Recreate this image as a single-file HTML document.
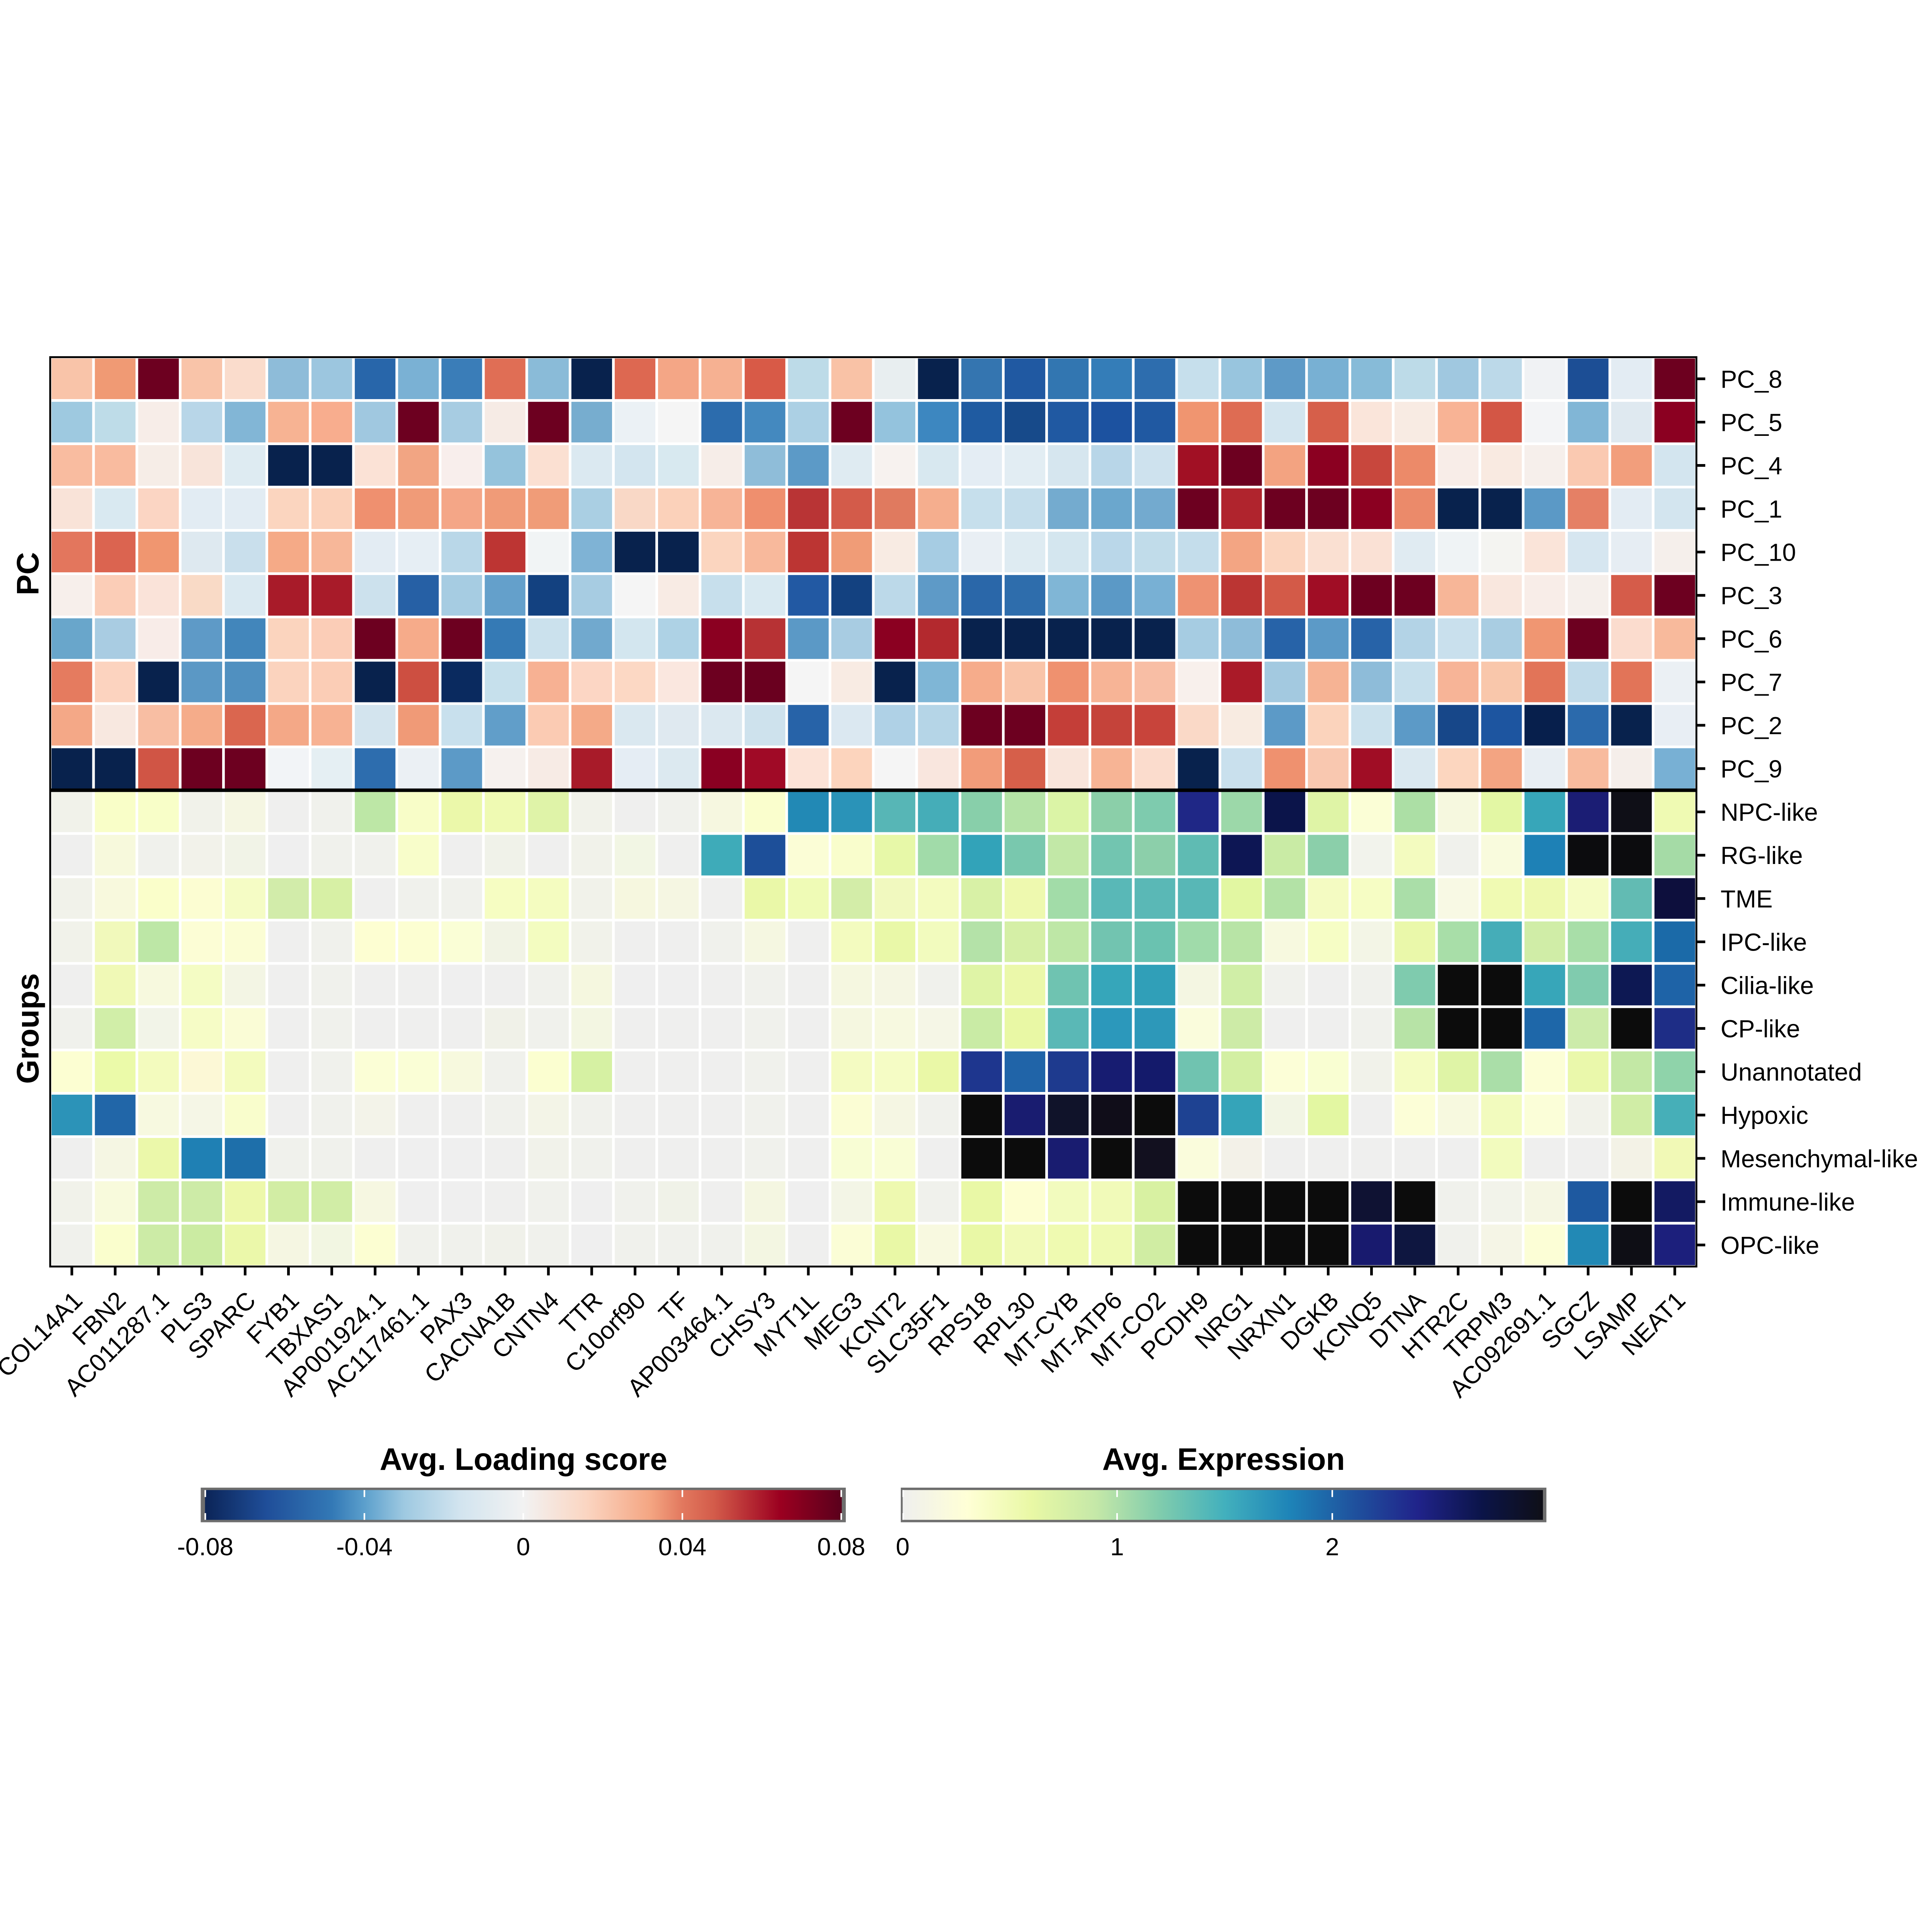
<!DOCTYPE html>
<html><head><meta charset="utf-8">
<style>
html,body{margin:0;padding:0;background:#fff;overflow:hidden}
svg{display:block;width:100vw;height:100vh}
text{font-family:"Liberation Sans",Arial,sans-serif;fill:#000}
</style></head><body>
<svg viewBox="0 0 7200 7200" xmlns="http://www.w3.org/2000/svg">
<defs>
<linearGradient id="g1" x1="0" y1="0" x2="1" y2="0">
<stop offset="0" stop-color="#0b2457"/><stop offset="0.0966" stop-color="#1f4e99"/><stop offset="0.2" stop-color="#3379b6"/><stop offset="0.25" stop-color="#5b9fcc"/><stop offset="0.3125" stop-color="#9ec9e1"/><stop offset="0.4" stop-color="#d2e4ef"/><stop offset="0.5" stop-color="#f2f2f2"/><stop offset="0.6" stop-color="#fbd5c1"/><stop offset="0.7" stop-color="#f4a582"/><stop offset="0.75" stop-color="#e2785e"/><stop offset="0.8" stop-color="#d35b4a"/><stop offset="0.85" stop-color="#b92f35"/><stop offset="0.903" stop-color="#9b0020"/><stop offset="1" stop-color="#5a001c"/>
</linearGradient>
<linearGradient id="g2" x1="0" y1="0" x2="1" y2="0">
<stop offset="0" stop-color="#efefee"/><stop offset="0.1006" stop-color="#ffffd6"/><stop offset="0.201" stop-color="#e9f8a5"/><stop offset="0.302" stop-color="#c5e8a8"/><stop offset="0.402" stop-color="#80ccad"/><stop offset="0.503" stop-color="#42b0bd"/><stop offset="0.604" stop-color="#1e84b8"/><stop offset="0.704" stop-color="#1f529e"/><stop offset="0.805" stop-color="#20238a"/><stop offset="0.905" stop-color="#0b1448"/><stop offset="1" stop-color="#0f0f17"/>
</linearGradient>
</defs>
<rect x="0" y="0" width="7200" height="7200" fill="#fff"/>
<!-- cells -->
<g transform="translate(0 1336)">
<rect x="192" width="151.5" height="151.4" fill="#f9c4a9"/><rect x="353.5" width="151.5" height="151.4" fill="#f09a74"/><rect x="514.9" width="151.5" height="151.4" fill="#6d0020"/><rect x="676.4" width="151.5" height="151.4" fill="#f9c4a9"/><rect x="837.8" width="151.5" height="151.4" fill="#fadccc"/><rect x="999.3" width="151.5" height="151.4" fill="#8ebcd9"/><rect x="1160.7" width="151.5" height="151.4" fill="#9cc6df"/><rect x="1322.2" width="151.5" height="151.4" fill="#2866aa"/><rect x="1483.6" width="151.5" height="151.4" fill="#7ab1d4"/><rect x="1645.1" width="151.5" height="151.4" fill="#3a7db8"/><rect x="1806.5" width="151.5" height="151.4" fill="#e06e55"/><rect x="1968" width="151.5" height="151.4" fill="#8abbd8"/><rect x="2129.4" width="151.5" height="151.4" fill="#08224d"/><rect x="2290.9" width="151.5" height="151.4" fill="#dd6851"/><rect x="2452.3" width="151.5" height="151.4" fill="#f4a686"/><rect x="2613.8" width="151.5" height="151.4" fill="#f6b192"/><rect x="2775.2" width="151.5" height="151.4" fill="#d85a47"/><rect x="2936.7" width="151.5" height="151.4" fill="#bddbe8"/><rect x="3098.1" width="151.5" height="151.4" fill="#f9c2a6"/><rect x="3259.6" width="151.5" height="151.4" fill="#e8eef0"/><rect x="3421" width="151.5" height="151.4" fill="#08224d"/><rect x="3582.5" width="151.5" height="151.4" fill="#3475b0"/><rect x="3743.9" width="151.5" height="151.4" fill="#2059a2"/><rect x="3905.4" width="151.5" height="151.4" fill="#3276b1"/><rect x="4066.8" width="151.5" height="151.4" fill="#347db8"/><rect x="4228.3" width="151.5" height="151.4" fill="#2d6dae"/><rect x="4389.7" width="151.5" height="151.4" fill="#c6dfec"/><rect x="4551.2" width="151.5" height="151.4" fill="#98c5de"/><rect x="4712.6" width="151.5" height="151.4" fill="#5e9ac7"/><rect x="4874.1" width="151.5" height="151.4" fill="#78b0d3"/><rect x="5035.5" width="151.5" height="151.4" fill="#87bbd8"/><rect x="5197" width="151.5" height="151.4" fill="#bddbe8"/><rect x="5358.4" width="151.5" height="151.4" fill="#a0c8e0"/><rect x="5519.9" width="151.5" height="151.4" fill="#bcd9e9"/><rect x="5681.3" width="151.5" height="151.4" fill="#f0f2f4"/><rect x="5842.8" width="151.5" height="151.4" fill="#1c4e95"/><rect x="6004.2" width="151.5" height="151.4" fill="#e3ecf3"/><rect x="6165.7" width="151.5" height="151.4" fill="#6d001f"/>
</g>
<g transform="translate(0 1497.4)">
<rect x="192" width="151.5" height="151.4" fill="#9ec9e0"/><rect x="353.5" width="151.5" height="151.4" fill="#bedce8"/><rect x="514.9" width="151.5" height="151.4" fill="#f7ede8"/><rect x="676.4" width="151.5" height="151.4" fill="#b8d6e8"/><rect x="837.8" width="151.5" height="151.4" fill="#82b6d6"/><rect x="999.3" width="151.5" height="151.4" fill="#f7b393"/><rect x="1160.7" width="151.5" height="151.4" fill="#f8ad8e"/><rect x="1322.2" width="151.5" height="151.4" fill="#a0c8e0"/><rect x="1483.6" width="151.5" height="151.4" fill="#6d0020"/><rect x="1645.1" width="151.5" height="151.4" fill="#a7cce2"/><rect x="1806.5" width="151.5" height="151.4" fill="#f6ebe5"/><rect x="1968" width="151.5" height="151.4" fill="#6d0020"/><rect x="2129.4" width="151.5" height="151.4" fill="#77adcf"/><rect x="2290.9" width="151.5" height="151.4" fill="#ebf1f5"/><rect x="2452.3" width="151.5" height="151.4" fill="#f5f5f5"/><rect x="2613.8" width="151.5" height="151.4" fill="#2c6cad"/><rect x="2775.2" width="151.5" height="151.4" fill="#4489bf"/><rect x="2936.7" width="151.5" height="151.4" fill="#acd0e4"/><rect x="3098.1" width="151.5" height="151.4" fill="#6d0020"/><rect x="3259.6" width="151.5" height="151.4" fill="#94c3dd"/><rect x="3421" width="151.5" height="151.4" fill="#3d87c0"/><rect x="3582.5" width="151.5" height="151.4" fill="#1f5ba1"/><rect x="3743.9" width="151.5" height="151.4" fill="#174a8a"/><rect x="3905.4" width="151.5" height="151.4" fill="#2059a2"/><rect x="4066.8" width="151.5" height="151.4" fill="#1c52a0"/><rect x="4228.3" width="151.5" height="151.4" fill="#2059a2"/><rect x="4389.7" width="151.5" height="151.4" fill="#f09570"/><rect x="4551.2" width="151.5" height="151.4" fill="#de6c53"/><rect x="4712.6" width="151.5" height="151.4" fill="#d3e5ef"/><rect x="4874.1" width="151.5" height="151.4" fill="#d65f4a"/><rect x="5035.5" width="151.5" height="151.4" fill="#fae5da"/><rect x="5197" width="151.5" height="151.4" fill="#f8ebe3"/><rect x="5358.4" width="151.5" height="151.4" fill="#f8b395"/><rect x="5519.9" width="151.5" height="151.4" fill="#d35645"/><rect x="5681.3" width="151.5" height="151.4" fill="#f3f4f6"/><rect x="5842.8" width="151.5" height="151.4" fill="#81b6d6"/><rect x="6004.2" width="151.5" height="151.4" fill="#dfe9f0"/><rect x="6165.7" width="151.5" height="151.4" fill="#8b0021"/>
</g>
<g transform="translate(0 1658.8)">
<rect x="192" width="151.5" height="151.4" fill="#f9bca0"/><rect x="353.5" width="151.5" height="151.4" fill="#f9bb9f"/><rect x="514.9" width="151.5" height="151.4" fill="#f6ede7"/><rect x="676.4" width="151.5" height="151.4" fill="#f8e4da"/><rect x="837.8" width="151.5" height="151.4" fill="#deebf2"/><rect x="999.3" width="151.5" height="151.4" fill="#08224d"/><rect x="1160.7" width="151.5" height="151.4" fill="#08224d"/><rect x="1322.2" width="151.5" height="151.4" fill="#fbe2d6"/><rect x="1483.6" width="151.5" height="151.4" fill="#f2a583"/><rect x="1645.1" width="151.5" height="151.4" fill="#f8eeec"/><rect x="1806.5" width="151.5" height="151.4" fill="#95c3dc"/><rect x="1968" width="151.5" height="151.4" fill="#fbe0d2"/><rect x="2129.4" width="151.5" height="151.4" fill="#dbe9f1"/><rect x="2290.9" width="151.5" height="151.4" fill="#d3e5ef"/><rect x="2452.3" width="151.5" height="151.4" fill="#d8e9f0"/><rect x="2613.8" width="151.5" height="151.4" fill="#f6ede8"/><rect x="2775.2" width="151.5" height="151.4" fill="#8fbdd9"/><rect x="2936.7" width="151.5" height="151.4" fill="#5c9ac7"/><rect x="3098.1" width="151.5" height="151.4" fill="#dfebf2"/><rect x="3259.6" width="151.5" height="151.4" fill="#f7f2ef"/><rect x="3421" width="151.5" height="151.4" fill="#d8e8f0"/><rect x="3582.5" width="151.5" height="151.4" fill="#e4edf4"/><rect x="3743.9" width="151.5" height="151.4" fill="#e2edf3"/><rect x="3905.4" width="151.5" height="151.4" fill="#d6e6ef"/><rect x="4066.8" width="151.5" height="151.4" fill="#b8d6e8"/><rect x="4228.3" width="151.5" height="151.4" fill="#cee2ee"/><rect x="4389.7" width="151.5" height="151.4" fill="#a11024"/><rect x="4551.2" width="151.5" height="151.4" fill="#6d0020"/><rect x="4712.6" width="151.5" height="151.4" fill="#f3a381"/><rect x="4874.1" width="151.5" height="151.4" fill="#8b0021"/><rect x="5035.5" width="151.5" height="151.4" fill="#c8473d"/><rect x="5197" width="151.5" height="151.4" fill="#ec8a69"/><rect x="5358.4" width="151.5" height="151.4" fill="#f8ede8"/><rect x="5519.9" width="151.5" height="151.4" fill="#f9eae1"/><rect x="5681.3" width="151.5" height="151.4" fill="#f6efeb"/><rect x="5842.8" width="151.5" height="151.4" fill="#fac9b1"/><rect x="6004.2" width="151.5" height="151.4" fill="#f29e7c"/><rect x="6165.7" width="151.5" height="151.4" fill="#d3e5ef"/>
</g>
<g transform="translate(0 1820.1)">
<rect x="192" width="151.5" height="151.4" fill="#f9e3d8"/><rect x="353.5" width="151.5" height="151.4" fill="#d9e9f1"/><rect x="514.9" width="151.5" height="151.4" fill="#fbd5c3"/><rect x="676.4" width="151.5" height="151.4" fill="#e2ecf3"/><rect x="837.8" width="151.5" height="151.4" fill="#e2ecf3"/><rect x="999.3" width="151.5" height="151.4" fill="#fbd5bf"/><rect x="1160.7" width="151.5" height="151.4" fill="#fbd1ba"/><rect x="1322.2" width="151.5" height="151.4" fill="#ef906f"/><rect x="1483.6" width="151.5" height="151.4" fill="#f09b78"/><rect x="1645.1" width="151.5" height="151.4" fill="#f4a687"/><rect x="1806.5" width="151.5" height="151.4" fill="#f09b78"/><rect x="1968" width="151.5" height="151.4" fill="#f09c78"/><rect x="2129.4" width="151.5" height="151.4" fill="#aacfe3"/><rect x="2290.9" width="151.5" height="151.4" fill="#f9d8c6"/><rect x="2452.3" width="151.5" height="151.4" fill="#fbd1ba"/><rect x="2613.8" width="151.5" height="151.4" fill="#f7b497"/><rect x="2775.2" width="151.5" height="151.4" fill="#ef8f6e"/><rect x="2936.7" width="151.5" height="151.4" fill="#b93435"/><rect x="3098.1" width="151.5" height="151.4" fill="#d35b4a"/><rect x="3259.6" width="151.5" height="151.4" fill="#e07a5f"/><rect x="3421" width="151.5" height="151.4" fill="#f5ae8e"/><rect x="3582.5" width="151.5" height="151.4" fill="#c6dfec"/><rect x="3743.9" width="151.5" height="151.4" fill="#c4ddeb"/><rect x="3905.4" width="151.5" height="151.4" fill="#74abcf"/><rect x="4066.8" width="151.5" height="151.4" fill="#6ba7cd"/><rect x="4228.3" width="151.5" height="151.4" fill="#73aacf"/><rect x="4389.7" width="151.5" height="151.4" fill="#6d0020"/><rect x="4551.2" width="151.5" height="151.4" fill="#b0242d"/><rect x="4712.6" width="151.5" height="151.4" fill="#6d0020"/><rect x="4874.1" width="151.5" height="151.4" fill="#6d0020"/><rect x="5035.5" width="151.5" height="151.4" fill="#8b0021"/><rect x="5197" width="151.5" height="151.4" fill="#eb8a6a"/><rect x="5358.4" width="151.5" height="151.4" fill="#08224d"/><rect x="5519.9" width="151.5" height="151.4" fill="#08224d"/><rect x="5681.3" width="151.5" height="151.4" fill="#5b99c6"/><rect x="5842.8" width="151.5" height="151.4" fill="#e58065"/><rect x="6004.2" width="151.5" height="151.4" fill="#e3ecf3"/><rect x="6165.7" width="151.5" height="151.4" fill="#d3e5ef"/>
</g>
<g transform="translate(0 1981.5)">
<rect x="192" width="151.5" height="151.4" fill="#e3765d"/><rect x="353.5" width="151.5" height="151.4" fill="#db6450"/><rect x="514.9" width="151.5" height="151.4" fill="#f09670"/><rect x="676.4" width="151.5" height="151.4" fill="#dee9f0"/><rect x="837.8" width="151.5" height="151.4" fill="#c9dfec"/><rect x="999.3" width="151.5" height="151.4" fill="#f5aa87"/><rect x="1160.7" width="151.5" height="151.4" fill="#f7b799"/><rect x="1322.2" width="151.5" height="151.4" fill="#e3ecf3"/><rect x="1483.6" width="151.5" height="151.4" fill="#e6eef4"/><rect x="1645.1" width="151.5" height="151.4" fill="#b9d7e8"/><rect x="1806.5" width="151.5" height="151.4" fill="#bd3533"/><rect x="1968" width="151.5" height="151.4" fill="#f1f4f5"/><rect x="2129.4" width="151.5" height="151.4" fill="#7fb3d5"/><rect x="2290.9" width="151.5" height="151.4" fill="#08224d"/><rect x="2452.3" width="151.5" height="151.4" fill="#08224d"/><rect x="2613.8" width="151.5" height="151.4" fill="#fbd5bf"/><rect x="2775.2" width="151.5" height="151.4" fill="#f8b99c"/><rect x="2936.7" width="151.5" height="151.4" fill="#bc3533"/><rect x="3098.1" width="151.5" height="151.4" fill="#f09c77"/><rect x="3259.6" width="151.5" height="151.4" fill="#f8ebe3"/><rect x="3421" width="151.5" height="151.4" fill="#a6cce3"/><rect x="3582.5" width="151.5" height="151.4" fill="#e9eff4"/><rect x="3743.9" width="151.5" height="151.4" fill="#deebf2"/><rect x="3905.4" width="151.5" height="151.4" fill="#d4e6ef"/><rect x="4066.8" width="151.5" height="151.4" fill="#bad7e9"/><rect x="4228.3" width="151.5" height="151.4" fill="#c1dcea"/><rect x="4389.7" width="151.5" height="151.4" fill="#c4ddeb"/><rect x="4551.2" width="151.5" height="151.4" fill="#f3a583"/><rect x="4712.6" width="151.5" height="151.4" fill="#fbd5bf"/><rect x="4874.1" width="151.5" height="151.4" fill="#fae0d2"/><rect x="5035.5" width="151.5" height="151.4" fill="#fae1d5"/><rect x="5197" width="151.5" height="151.4" fill="#e0ebf2"/><rect x="5358.4" width="151.5" height="151.4" fill="#eff3f5"/><rect x="5519.9" width="151.5" height="151.4" fill="#f4f4f1"/><rect x="5681.3" width="151.5" height="151.4" fill="#fae4d9"/><rect x="5842.8" width="151.5" height="151.4" fill="#d6e6f0"/><rect x="6004.2" width="151.5" height="151.4" fill="#e6edf3"/><rect x="6165.7" width="151.5" height="151.4" fill="#f5efeb"/>
</g>
<g transform="translate(0 2142.9)">
<rect x="192" width="151.5" height="151.4" fill="#f7efeb"/><rect x="353.5" width="151.5" height="151.4" fill="#fbcdb7"/><rect x="514.9" width="151.5" height="151.4" fill="#fae3d9"/><rect x="676.4" width="151.5" height="151.4" fill="#f9dac6"/><rect x="837.8" width="151.5" height="151.4" fill="#dae9f1"/><rect x="999.3" width="151.5" height="151.4" fill="#a81b29"/><rect x="1160.7" width="151.5" height="151.4" fill="#a81b29"/><rect x="1322.2" width="151.5" height="151.4" fill="#cce1ed"/><rect x="1483.6" width="151.5" height="151.4" fill="#2660a5"/><rect x="1645.1" width="151.5" height="151.4" fill="#a6cce2"/><rect x="1806.5" width="151.5" height="151.4" fill="#64a0cb"/><rect x="1968" width="151.5" height="151.4" fill="#134180"/><rect x="2129.4" width="151.5" height="151.4" fill="#a7cce2"/><rect x="2290.9" width="151.5" height="151.4" fill="#f5f5f5"/><rect x="2452.3" width="151.5" height="151.4" fill="#f8ebe4"/><rect x="2613.8" width="151.5" height="151.4" fill="#c7dfec"/><rect x="2775.2" width="151.5" height="151.4" fill="#d9e9f1"/><rect x="2936.7" width="151.5" height="151.4" fill="#2259a3"/><rect x="3098.1" width="151.5" height="151.4" fill="#134180"/><rect x="3259.6" width="151.5" height="151.4" fill="#bcd9e9"/><rect x="3421" width="151.5" height="151.4" fill="#5e9ac7"/><rect x="3582.5" width="151.5" height="151.4" fill="#2a67a9"/><rect x="3743.9" width="151.5" height="151.4" fill="#2e6dac"/><rect x="3905.4" width="151.5" height="151.4" fill="#80b6d6"/><rect x="4066.8" width="151.5" height="151.4" fill="#5b99c6"/><rect x="4228.3" width="151.5" height="151.4" fill="#78b0d4"/><rect x="4389.7" width="151.5" height="151.4" fill="#ee9272"/><rect x="4551.2" width="151.5" height="151.4" fill="#bb3533"/><rect x="4712.6" width="151.5" height="151.4" fill="#d35a48"/><rect x="4874.1" width="151.5" height="151.4" fill="#a00d25"/><rect x="5035.5" width="151.5" height="151.4" fill="#6d0020"/><rect x="5197" width="151.5" height="151.4" fill="#6d0020"/><rect x="5358.4" width="151.5" height="151.4" fill="#f7b698"/><rect x="5519.9" width="151.5" height="151.4" fill="#f9e7de"/><rect x="5681.3" width="151.5" height="151.4" fill="#f8ede8"/><rect x="5842.8" width="151.5" height="151.4" fill="#f5efeb"/><rect x="6004.2" width="151.5" height="151.4" fill="#d55c4a"/><rect x="6165.7" width="151.5" height="151.4" fill="#6d0020"/>
</g>
<g transform="translate(0 2304.3)">
<rect x="192" width="151.5" height="151.4" fill="#69a6cb"/><rect x="353.5" width="151.5" height="151.4" fill="#a9cce2"/><rect x="514.9" width="151.5" height="151.4" fill="#f8ece8"/><rect x="676.4" width="151.5" height="151.4" fill="#5e9ac7"/><rect x="837.8" width="151.5" height="151.4" fill="#4286bb"/><rect x="999.3" width="151.5" height="151.4" fill="#fbd4be"/><rect x="1160.7" width="151.5" height="151.4" fill="#fbcdb7"/><rect x="1322.2" width="151.5" height="151.4" fill="#6d0020"/><rect x="1483.6" width="151.5" height="151.4" fill="#f6ab8a"/><rect x="1645.1" width="151.5" height="151.4" fill="#6d0020"/><rect x="1806.5" width="151.5" height="151.4" fill="#357ab5"/><rect x="1968" width="151.5" height="151.4" fill="#cbe1ed"/><rect x="2129.4" width="151.5" height="151.4" fill="#71a9ce"/><rect x="2290.9" width="151.5" height="151.4" fill="#d3e6ef"/><rect x="2452.3" width="151.5" height="151.4" fill="#aed2e5"/><rect x="2613.8" width="151.5" height="151.4" fill="#8b0021"/><rect x="2775.2" width="151.5" height="151.4" fill="#b73234"/><rect x="2936.7" width="151.5" height="151.4" fill="#5b99c6"/><rect x="3098.1" width="151.5" height="151.4" fill="#a8cce2"/><rect x="3259.6" width="151.5" height="151.4" fill="#8b0021"/><rect x="3421" width="151.5" height="151.4" fill="#b3292e"/><rect x="3582.5" width="151.5" height="151.4" fill="#08224d"/><rect x="3743.9" width="151.5" height="151.4" fill="#08224d"/><rect x="3905.4" width="151.5" height="151.4" fill="#08224d"/><rect x="4066.8" width="151.5" height="151.4" fill="#08224d"/><rect x="4228.3" width="151.5" height="151.4" fill="#08224d"/><rect x="4389.7" width="151.5" height="151.4" fill="#a6cce2"/><rect x="4551.2" width="151.5" height="151.4" fill="#8ebcd9"/><rect x="4712.6" width="151.5" height="151.4" fill="#2763a8"/><rect x="4874.1" width="151.5" height="151.4" fill="#5c9ac7"/><rect x="5035.5" width="151.5" height="151.4" fill="#2763a8"/><rect x="5197" width="151.5" height="151.4" fill="#b3d3e6"/><rect x="5358.4" width="151.5" height="151.4" fill="#c9e0ed"/><rect x="5519.9" width="151.5" height="151.4" fill="#a9cde2"/><rect x="5681.3" width="151.5" height="151.4" fill="#f09672"/><rect x="5842.8" width="151.5" height="151.4" fill="#6d0020"/><rect x="6004.2" width="151.5" height="151.4" fill="#fbdcce"/><rect x="6165.7" width="151.5" height="151.4" fill="#f8ba9c"/>
</g>
<g transform="translate(0 2465.7)">
<rect x="192" width="151.5" height="151.4" fill="#e57b5f"/><rect x="353.5" width="151.5" height="151.4" fill="#fcd3bf"/><rect x="514.9" width="151.5" height="151.4" fill="#08224d"/><rect x="676.4" width="151.5" height="151.4" fill="#5b98c5"/><rect x="837.8" width="151.5" height="151.4" fill="#5090c0"/><rect x="999.3" width="151.5" height="151.4" fill="#fbd3be"/><rect x="1160.7" width="151.5" height="151.4" fill="#fbcdb6"/><rect x="1322.2" width="151.5" height="151.4" fill="#08224d"/><rect x="1483.6" width="151.5" height="151.4" fill="#cd4f41"/><rect x="1645.1" width="151.5" height="151.4" fill="#0a2a5f"/><rect x="1806.5" width="151.5" height="151.4" fill="#c6e0ec"/><rect x="1968" width="151.5" height="151.4" fill="#f7b193"/><rect x="2129.4" width="151.5" height="151.4" fill="#fcd6c4"/><rect x="2290.9" width="151.5" height="151.4" fill="#fcd8c4"/><rect x="2452.3" width="151.5" height="151.4" fill="#fae7df"/><rect x="2613.8" width="151.5" height="151.4" fill="#6d0020"/><rect x="2775.2" width="151.5" height="151.4" fill="#6a001f"/><rect x="2936.7" width="151.5" height="151.4" fill="#f5f5f5"/><rect x="3098.1" width="151.5" height="151.4" fill="#f8ebe3"/><rect x="3259.6" width="151.5" height="151.4" fill="#08224d"/><rect x="3421" width="151.5" height="151.4" fill="#7fb6d6"/><rect x="3582.5" width="151.5" height="151.4" fill="#f6ac8b"/><rect x="3743.9" width="151.5" height="151.4" fill="#f9c4a9"/><rect x="3905.4" width="151.5" height="151.4" fill="#ef916f"/><rect x="4066.8" width="151.5" height="151.4" fill="#f7b496"/><rect x="4228.3" width="151.5" height="151.4" fill="#f8bea5"/><rect x="4389.7" width="151.5" height="151.4" fill="#f8f0ec"/><rect x="4551.2" width="151.5" height="151.4" fill="#aa1a28"/><rect x="4712.6" width="151.5" height="151.4" fill="#a3c9e0"/><rect x="4874.1" width="151.5" height="151.4" fill="#f6b394"/><rect x="5035.5" width="151.5" height="151.4" fill="#8ebcd9"/><rect x="5197" width="151.5" height="151.4" fill="#c6dfec"/><rect x="5358.4" width="151.5" height="151.4" fill="#f7b497"/><rect x="5519.9" width="151.5" height="151.4" fill="#f9c7ab"/><rect x="5681.3" width="151.5" height="151.4" fill="#e27458"/><rect x="5842.8" width="151.5" height="151.4" fill="#c1dbea"/><rect x="6004.2" width="151.5" height="151.4" fill="#e27458"/><rect x="6165.7" width="151.5" height="151.4" fill="#ebf0f4"/>
</g>
<g transform="translate(0 2627)">
<rect x="192" width="151.5" height="151.4" fill="#f4a887"/><rect x="353.5" width="151.5" height="151.4" fill="#f8e8e0"/><rect x="514.9" width="151.5" height="151.4" fill="#f8bea3"/><rect x="676.4" width="151.5" height="151.4" fill="#f5ac8a"/><rect x="837.8" width="151.5" height="151.4" fill="#da664f"/><rect x="999.3" width="151.5" height="151.4" fill="#f4a887"/><rect x="1160.7" width="151.5" height="151.4" fill="#f7b293"/><rect x="1322.2" width="151.5" height="151.4" fill="#d3e4ee"/><rect x="1483.6" width="151.5" height="151.4" fill="#f09a77"/><rect x="1645.1" width="151.5" height="151.4" fill="#c8e0ed"/><rect x="1806.5" width="151.5" height="151.4" fill="#619ec9"/><rect x="1968" width="151.5" height="151.4" fill="#fbcbb3"/><rect x="2129.4" width="151.5" height="151.4" fill="#f4aa88"/><rect x="2290.9" width="151.5" height="151.4" fill="#dae8f0"/><rect x="2452.3" width="151.5" height="151.4" fill="#dfe9f0"/><rect x="2613.8" width="151.5" height="151.4" fill="#dbe8f0"/><rect x="2775.2" width="151.5" height="151.4" fill="#cee2ed"/><rect x="2936.7" width="151.5" height="151.4" fill="#2763a8"/><rect x="3098.1" width="151.5" height="151.4" fill="#dbe8f1"/><rect x="3259.6" width="151.5" height="151.4" fill="#afd1e6"/><rect x="3421" width="151.5" height="151.4" fill="#b5d5e7"/><rect x="3582.5" width="151.5" height="151.4" fill="#6d0020"/><rect x="3743.9" width="151.5" height="151.4" fill="#6d0020"/><rect x="3905.4" width="151.5" height="151.4" fill="#c43e38"/><rect x="4066.8" width="151.5" height="151.4" fill="#c5433a"/><rect x="4228.3" width="151.5" height="151.4" fill="#c8443b"/><rect x="4389.7" width="151.5" height="151.4" fill="#fad9c7"/><rect x="4551.2" width="151.5" height="151.4" fill="#f8ebe1"/><rect x="4712.6" width="151.5" height="151.4" fill="#5c9ac7"/><rect x="4874.1" width="151.5" height="151.4" fill="#fbd3bc"/><rect x="5035.5" width="151.5" height="151.4" fill="#cbe1ed"/><rect x="5197" width="151.5" height="151.4" fill="#5c9ac7"/><rect x="5358.4" width="151.5" height="151.4" fill="#174789"/><rect x="5519.9" width="151.5" height="151.4" fill="#1d55a0"/><rect x="5681.3" width="151.5" height="151.4" fill="#071f4c"/><rect x="5842.8" width="151.5" height="151.4" fill="#2b6aac"/><rect x="6004.2" width="151.5" height="151.4" fill="#08224d"/><rect x="6165.7" width="151.5" height="151.4" fill="#e8eef4"/>
</g>
<g transform="translate(0 2788.4)">
<rect x="192" width="151.5" height="151.4" fill="#08224d"/><rect x="353.5" width="151.5" height="151.4" fill="#08224d"/><rect x="514.9" width="151.5" height="151.4" fill="#d05545"/><rect x="676.4" width="151.5" height="151.4" fill="#6d0020"/><rect x="837.8" width="151.5" height="151.4" fill="#6d0020"/><rect x="999.3" width="151.5" height="151.4" fill="#f2f4f7"/><rect x="1160.7" width="151.5" height="151.4" fill="#e5eff3"/><rect x="1322.2" width="151.5" height="151.4" fill="#2d6dae"/><rect x="1483.6" width="151.5" height="151.4" fill="#ebf0f4"/><rect x="1645.1" width="151.5" height="151.4" fill="#5c9ac7"/><rect x="1806.5" width="151.5" height="151.4" fill="#f6f1ee"/><rect x="1968" width="151.5" height="151.4" fill="#f7ebe5"/><rect x="2129.4" width="151.5" height="151.4" fill="#a81b29"/><rect x="2290.9" width="151.5" height="151.4" fill="#e5edf4"/><rect x="2452.3" width="151.5" height="151.4" fill="#dce9f0"/><rect x="2613.8" width="151.5" height="151.4" fill="#8a0022"/><rect x="2775.2" width="151.5" height="151.4" fill="#a00a26"/><rect x="2936.7" width="151.5" height="151.4" fill="#fce3d7"/><rect x="3098.1" width="151.5" height="151.4" fill="#fcd4bd"/><rect x="3259.6" width="151.5" height="151.4" fill="#f5f5f5"/><rect x="3421" width="151.5" height="151.4" fill="#f9e6de"/><rect x="3582.5" width="151.5" height="151.4" fill="#f29c7a"/><rect x="3743.9" width="151.5" height="151.4" fill="#d65f4a"/><rect x="3905.4" width="151.5" height="151.4" fill="#f9e5db"/><rect x="4066.8" width="151.5" height="151.4" fill="#f7b495"/><rect x="4228.3" width="151.5" height="151.4" fill="#fbdccd"/><rect x="4389.7" width="151.5" height="151.4" fill="#08224d"/><rect x="4551.2" width="151.5" height="151.4" fill="#c9e0ed"/><rect x="4712.6" width="151.5" height="151.4" fill="#ef916f"/><rect x="4874.1" width="151.5" height="151.4" fill="#f9c8b0"/><rect x="5035.5" width="151.5" height="151.4" fill="#a00d25"/><rect x="5197" width="151.5" height="151.4" fill="#dae8f0"/><rect x="5358.4" width="151.5" height="151.4" fill="#fcd6bf"/><rect x="5519.9" width="151.5" height="151.4" fill="#f3a482"/><rect x="5681.3" width="151.5" height="151.4" fill="#e8eef3"/><rect x="5842.8" width="151.5" height="151.4" fill="#f8bb9e"/><rect x="6004.2" width="151.5" height="151.4" fill="#f5eeea"/><rect x="6165.7" width="151.5" height="151.4" fill="#78b0d4"/>
</g>
<g transform="translate(0 2949.8)">
<rect x="192" width="151.5" height="151.4" fill="#f1f2ea"/><rect x="353.5" width="151.5" height="151.4" fill="#f9fec8"/><rect x="514.9" width="151.5" height="151.4" fill="#f8fec8"/><rect x="676.4" width="151.5" height="151.4" fill="#f1f2ea"/><rect x="837.8" width="151.5" height="151.4" fill="#f5f6e2"/><rect x="999.3" width="151.5" height="151.4" fill="#efefee"/><rect x="1160.7" width="151.5" height="151.4" fill="#f0f1ec"/><rect x="1322.2" width="151.5" height="151.4" fill="#bde7a6"/><rect x="1483.6" width="151.5" height="151.4" fill="#f8fdc8"/><rect x="1645.1" width="151.5" height="151.4" fill="#ebf8aa"/><rect x="1806.5" width="151.5" height="151.4" fill="#effab3"/><rect x="1968" width="151.5" height="151.4" fill="#dff3a8"/><rect x="2129.4" width="151.5" height="151.4" fill="#f1f2ea"/><rect x="2290.9" width="151.5" height="151.4" fill="#efefee"/><rect x="2452.3" width="151.5" height="151.4" fill="#f0f1ec"/><rect x="2613.8" width="151.5" height="151.4" fill="#f6f7e0"/><rect x="2775.2" width="151.5" height="151.4" fill="#fafecd"/><rect x="2936.7" width="151.5" height="151.4" fill="#2289b5"/><rect x="3098.1" width="151.5" height="151.4" fill="#2a93b8"/><rect x="3259.6" width="151.5" height="151.4" fill="#57b6b6"/><rect x="3421" width="151.5" height="151.4" fill="#45adb8"/><rect x="3582.5" width="151.5" height="151.4" fill="#88cfaa"/><rect x="3743.9" width="151.5" height="151.4" fill="#b5e3a7"/><rect x="3905.4" width="151.5" height="151.4" fill="#dbf4a6"/><rect x="4066.8" width="151.5" height="151.4" fill="#8bcfa9"/><rect x="4228.3" width="151.5" height="151.4" fill="#7ecbae"/><rect x="4389.7" width="151.5" height="151.4" fill="#1f2786"/><rect x="4551.2" width="151.5" height="151.4" fill="#9cd8a9"/><rect x="4712.6" width="151.5" height="151.4" fill="#0b144a"/><rect x="4874.1" width="151.5" height="151.4" fill="#dff4a6"/><rect x="5035.5" width="151.5" height="151.4" fill="#fbfed6"/><rect x="5197" width="151.5" height="151.4" fill="#acdfa5"/><rect x="5358.4" width="151.5" height="151.4" fill="#f6f8df"/><rect x="5519.9" width="151.5" height="151.4" fill="#e3f7a4"/><rect x="5681.3" width="151.5" height="151.4" fill="#37a6b9"/><rect x="5842.8" width="151.5" height="151.4" fill="#1b1d74"/><rect x="6004.2" width="151.5" height="151.4" fill="#0f0f17"/><rect x="6165.7" width="151.5" height="151.4" fill="#effab3"/>
</g>
<g transform="translate(0 3111.2)">
<rect x="192" width="151.5" height="151.4" fill="#efefee"/><rect x="353.5" width="151.5" height="151.4" fill="#f7f9dc"/><rect x="514.9" width="151.5" height="151.4" fill="#f0f1ec"/><rect x="676.4" width="151.5" height="151.4" fill="#f2f2ea"/><rect x="837.8" width="151.5" height="151.4" fill="#f1f3e7"/><rect x="999.3" width="151.5" height="151.4" fill="#efefef"/><rect x="1160.7" width="151.5" height="151.4" fill="#f0f1ec"/><rect x="1322.2" width="151.5" height="151.4" fill="#f0f1ec"/><rect x="1483.6" width="151.5" height="151.4" fill="#f8fdca"/><rect x="1645.1" width="151.5" height="151.4" fill="#efefee"/><rect x="1806.5" width="151.5" height="151.4" fill="#f0f2e9"/><rect x="1968" width="151.5" height="151.4" fill="#efefee"/><rect x="2129.4" width="151.5" height="151.4" fill="#f1f2ea"/><rect x="2290.9" width="151.5" height="151.4" fill="#f2f6e4"/><rect x="2452.3" width="151.5" height="151.4" fill="#efefee"/><rect x="2613.8" width="151.5" height="151.4" fill="#3eabb9"/><rect x="2775.2" width="151.5" height="151.4" fill="#1d4f99"/><rect x="2936.7" width="151.5" height="151.4" fill="#fbfdd6"/><rect x="3098.1" width="151.5" height="151.4" fill="#f9fdcc"/><rect x="3259.6" width="151.5" height="151.4" fill="#e7f8a8"/><rect x="3421" width="151.5" height="151.4" fill="#a1dba9"/><rect x="3582.5" width="151.5" height="151.4" fill="#32a3b9"/><rect x="3743.9" width="151.5" height="151.4" fill="#79c8ae"/><rect x="3905.4" width="151.5" height="151.4" fill="#c2e8a7"/><rect x="4066.8" width="151.5" height="151.4" fill="#72c5b0"/><rect x="4228.3" width="151.5" height="151.4" fill="#8ccfaa"/><rect x="4389.7" width="151.5" height="151.4" fill="#5fbbb3"/><rect x="4551.2" width="151.5" height="151.4" fill="#0d1654"/><rect x="4712.6" width="151.5" height="151.4" fill="#c9eba5"/><rect x="4874.1" width="151.5" height="151.4" fill="#8bcfaa"/><rect x="5035.5" width="151.5" height="151.4" fill="#f2f3ec"/><rect x="5197" width="151.5" height="151.4" fill="#f3fbbf"/><rect x="5358.4" width="151.5" height="151.4" fill="#f0f1ec"/><rect x="5519.9" width="151.5" height="151.4" fill="#f9fbdd"/><rect x="5681.3" width="151.5" height="151.4" fill="#1e81b6"/><rect x="5842.8" width="151.5" height="151.4" fill="#0c0c0e"/><rect x="6004.2" width="151.5" height="151.4" fill="#0c0c0e"/><rect x="6165.7" width="151.5" height="151.4" fill="#a5dba6"/>
</g>
<g transform="translate(0 3272.6)">
<rect x="192" width="151.5" height="151.4" fill="#f1f2ea"/><rect x="353.5" width="151.5" height="151.4" fill="#f8f9dd"/><rect x="514.9" width="151.5" height="151.4" fill="#fafeca"/><rect x="676.4" width="151.5" height="151.4" fill="#fcfdd2"/><rect x="837.8" width="151.5" height="151.4" fill="#f5fcc5"/><rect x="999.3" width="151.5" height="151.4" fill="#d2ecaa"/><rect x="1160.7" width="151.5" height="151.4" fill="#d7f0a5"/><rect x="1322.2" width="151.5" height="151.4" fill="#efefee"/><rect x="1483.6" width="151.5" height="151.4" fill="#f0f1ec"/><rect x="1645.1" width="151.5" height="151.4" fill="#f0f1ec"/><rect x="1806.5" width="151.5" height="151.4" fill="#f6fdc2"/><rect x="1968" width="151.5" height="151.4" fill="#f4fcc0"/><rect x="2129.4" width="151.5" height="151.4" fill="#f1f2ea"/><rect x="2290.9" width="151.5" height="151.4" fill="#f6f7df"/><rect x="2452.3" width="151.5" height="151.4" fill="#f5f6e2"/><rect x="2613.8" width="151.5" height="151.4" fill="#efefee"/><rect x="2775.2" width="151.5" height="151.4" fill="#eaf8a8"/><rect x="2936.7" width="151.5" height="151.4" fill="#effbb6"/><rect x="3098.1" width="151.5" height="151.4" fill="#d3eda8"/><rect x="3259.6" width="151.5" height="151.4" fill="#f1f9bf"/><rect x="3421" width="151.5" height="151.4" fill="#f3fbbf"/><rect x="3582.5" width="151.5" height="151.4" fill="#d8f1a6"/><rect x="3743.9" width="151.5" height="151.4" fill="#eef9af"/><rect x="3905.4" width="151.5" height="151.4" fill="#a2dca8"/><rect x="4066.8" width="151.5" height="151.4" fill="#59b8b7"/><rect x="4228.3" width="151.5" height="151.4" fill="#5ab8b6"/><rect x="4389.7" width="151.5" height="151.4" fill="#58b7b6"/><rect x="4551.2" width="151.5" height="151.4" fill="#e2f7a2"/><rect x="4712.6" width="151.5" height="151.4" fill="#b3e2a6"/><rect x="4874.1" width="151.5" height="151.4" fill="#f4fbc2"/><rect x="5035.5" width="151.5" height="151.4" fill="#f6fdc4"/><rect x="5197" width="151.5" height="151.4" fill="#aadea8"/><rect x="5358.4" width="151.5" height="151.4" fill="#f8f9e4"/><rect x="5519.9" width="151.5" height="151.4" fill="#f0fab3"/><rect x="5681.3" width="151.5" height="151.4" fill="#eef9af"/><rect x="5842.8" width="151.5" height="151.4" fill="#f5fcc5"/><rect x="6004.2" width="151.5" height="151.4" fill="#62bbb3"/><rect x="6165.7" width="151.5" height="151.4" fill="#0d0f3d"/>
</g>
<g transform="translate(0 3433.9)">
<rect x="192" width="151.5" height="151.4" fill="#f1f2ea"/><rect x="353.5" width="151.5" height="151.4" fill="#f1f9bb"/><rect x="514.9" width="151.5" height="151.4" fill="#bde7a6"/><rect x="676.4" width="151.5" height="151.4" fill="#fcfdd5"/><rect x="837.8" width="151.5" height="151.4" fill="#fbfdd4"/><rect x="999.3" width="151.5" height="151.4" fill="#efefee"/><rect x="1160.7" width="151.5" height="151.4" fill="#f0f1ec"/><rect x="1322.2" width="151.5" height="151.4" fill="#fdfed2"/><rect x="1483.6" width="151.5" height="151.4" fill="#fcfed2"/><rect x="1645.1" width="151.5" height="151.4" fill="#fafed6"/><rect x="1806.5" width="151.5" height="151.4" fill="#f1f3e5"/><rect x="1968" width="151.5" height="151.4" fill="#f3fcc0"/><rect x="2129.4" width="151.5" height="151.4" fill="#f1f2ea"/><rect x="2290.9" width="151.5" height="151.4" fill="#efefee"/><rect x="2452.3" width="151.5" height="151.4" fill="#efefee"/><rect x="2613.8" width="151.5" height="151.4" fill="#f0f1ec"/><rect x="2775.2" width="151.5" height="151.4" fill="#f5f7e1"/><rect x="2936.7" width="151.5" height="151.4" fill="#efefee"/><rect x="3098.1" width="151.5" height="151.4" fill="#f3fbbf"/><rect x="3259.6" width="151.5" height="151.4" fill="#e9f8a8"/><rect x="3421" width="151.5" height="151.4" fill="#f2fbbe"/><rect x="3582.5" width="151.5" height="151.4" fill="#b4e2a8"/><rect x="3743.9" width="151.5" height="151.4" fill="#d5efa6"/><rect x="3905.4" width="151.5" height="151.4" fill="#bee7a6"/><rect x="4066.8" width="151.5" height="151.4" fill="#72c4b0"/><rect x="4228.3" width="151.5" height="151.4" fill="#6ac2b0"/><rect x="4389.7" width="151.5" height="151.4" fill="#a0dbaa"/><rect x="4551.2" width="151.5" height="151.4" fill="#b8e4a6"/><rect x="4712.6" width="151.5" height="151.4" fill="#f7f9df"/><rect x="4874.1" width="151.5" height="151.4" fill="#f6fdc5"/><rect x="5035.5" width="151.5" height="151.4" fill="#f3f5e6"/><rect x="5197" width="151.5" height="151.4" fill="#eaf8aa"/><rect x="5358.4" width="151.5" height="151.4" fill="#a8dea8"/><rect x="5519.9" width="151.5" height="151.4" fill="#45adb8"/><rect x="5681.3" width="151.5" height="151.4" fill="#d0eda7"/><rect x="5842.8" width="151.5" height="151.4" fill="#a8dea8"/><rect x="6004.2" width="151.5" height="151.4" fill="#45adb8"/><rect x="6165.7" width="151.5" height="151.4" fill="#1b6aa8"/>
</g>
<g transform="translate(0 3595.3)">
<rect x="192" width="151.5" height="151.4" fill="#efefee"/><rect x="353.5" width="151.5" height="151.4" fill="#f0f9b6"/><rect x="514.9" width="151.5" height="151.4" fill="#f7f9de"/><rect x="676.4" width="151.5" height="151.4" fill="#f4fcc4"/><rect x="837.8" width="151.5" height="151.4" fill="#f3f5e4"/><rect x="999.3" width="151.5" height="151.4" fill="#efefee"/><rect x="1160.7" width="151.5" height="151.4" fill="#f0f1ec"/><rect x="1322.2" width="151.5" height="151.4" fill="#efefee"/><rect x="1483.6" width="151.5" height="151.4" fill="#efefee"/><rect x="1645.1" width="151.5" height="151.4" fill="#efefef"/><rect x="1806.5" width="151.5" height="151.4" fill="#efefee"/><rect x="1968" width="151.5" height="151.4" fill="#f0f1ec"/><rect x="2129.4" width="151.5" height="151.4" fill="#f5f7df"/><rect x="2290.9" width="151.5" height="151.4" fill="#efefef"/><rect x="2452.3" width="151.5" height="151.4" fill="#efefef"/><rect x="2613.8" width="151.5" height="151.4" fill="#efefee"/><rect x="2775.2" width="151.5" height="151.4" fill="#f0f1ec"/><rect x="2936.7" width="151.5" height="151.4" fill="#efefee"/><rect x="3098.1" width="151.5" height="151.4" fill="#f5f7e0"/><rect x="3259.6" width="151.5" height="151.4" fill="#f5f6e3"/><rect x="3421" width="151.5" height="151.4" fill="#f0f1ec"/><rect x="3582.5" width="151.5" height="151.4" fill="#dff4a6"/><rect x="3743.9" width="151.5" height="151.4" fill="#ebf8aa"/><rect x="3905.4" width="151.5" height="151.4" fill="#6fc3b1"/><rect x="4066.8" width="151.5" height="151.4" fill="#36a6ba"/><rect x="4228.3" width="151.5" height="151.4" fill="#309fb8"/><rect x="4389.7" width="151.5" height="151.4" fill="#f4f6e2"/><rect x="4551.2" width="151.5" height="151.4" fill="#d0eea7"/><rect x="4712.6" width="151.5" height="151.4" fill="#f0f1ec"/><rect x="4874.1" width="151.5" height="151.4" fill="#efefee"/><rect x="5035.5" width="151.5" height="151.4" fill="#f0f1ec"/><rect x="5197" width="151.5" height="151.4" fill="#7fcbae"/><rect x="5358.4" width="151.5" height="151.4" fill="#0c0c0c"/><rect x="5519.9" width="151.5" height="151.4" fill="#0c0c0c"/><rect x="5681.3" width="151.5" height="151.4" fill="#37a6b9"/><rect x="5842.8" width="151.5" height="151.4" fill="#80cbae"/><rect x="6004.2" width="151.5" height="151.4" fill="#0d1853"/><rect x="6165.7" width="151.5" height="151.4" fill="#1e63a7"/>
</g>
<g transform="translate(0 3756.7)">
<rect x="192" width="151.5" height="151.4" fill="#f0f1ec"/><rect x="353.5" width="151.5" height="151.4" fill="#d1eea8"/><rect x="514.9" width="151.5" height="151.4" fill="#f2f4e8"/><rect x="676.4" width="151.5" height="151.4" fill="#f6fcc6"/><rect x="837.8" width="151.5" height="151.4" fill="#fafcd6"/><rect x="999.3" width="151.5" height="151.4" fill="#efefee"/><rect x="1160.7" width="151.5" height="151.4" fill="#f0f1ec"/><rect x="1322.2" width="151.5" height="151.4" fill="#efefee"/><rect x="1483.6" width="151.5" height="151.4" fill="#efefee"/><rect x="1645.1" width="151.5" height="151.4" fill="#efefee"/><rect x="1806.5" width="151.5" height="151.4" fill="#f0f1e8"/><rect x="1968" width="151.5" height="151.4" fill="#f0f1ec"/><rect x="2129.4" width="151.5" height="151.4" fill="#f3f6e2"/><rect x="2290.9" width="151.5" height="151.4" fill="#efefee"/><rect x="2452.3" width="151.5" height="151.4" fill="#efefee"/><rect x="2613.8" width="151.5" height="151.4" fill="#efefee"/><rect x="2775.2" width="151.5" height="151.4" fill="#f0f1ec"/><rect x="2936.7" width="151.5" height="151.4" fill="#efefee"/><rect x="3098.1" width="151.5" height="151.4" fill="#f5f7e0"/><rect x="3259.6" width="151.5" height="151.4" fill="#f7f9e0"/><rect x="3421" width="151.5" height="151.4" fill="#f5f6e6"/><rect x="3582.5" width="151.5" height="151.4" fill="#c9eba5"/><rect x="3743.9" width="151.5" height="151.4" fill="#e9f8a5"/><rect x="3905.4" width="151.5" height="151.4" fill="#5ab8b6"/><rect x="4066.8" width="151.5" height="151.4" fill="#2c98bb"/><rect x="4228.3" width="151.5" height="151.4" fill="#2d98b9"/><rect x="4389.7" width="151.5" height="151.4" fill="#fafcdc"/><rect x="4551.2" width="151.5" height="151.4" fill="#cdeba7"/><rect x="4712.6" width="151.5" height="151.4" fill="#efefee"/><rect x="4874.1" width="151.5" height="151.4" fill="#efefee"/><rect x="5035.5" width="151.5" height="151.4" fill="#f0f1ec"/><rect x="5197" width="151.5" height="151.4" fill="#b7e3a6"/><rect x="5358.4" width="151.5" height="151.4" fill="#0c0c0c"/><rect x="5519.9" width="151.5" height="151.4" fill="#0c0c0c"/><rect x="5681.3" width="151.5" height="151.4" fill="#1e67a9"/><rect x="5842.8" width="151.5" height="151.4" fill="#ccebaa"/><rect x="6004.2" width="151.5" height="151.4" fill="#0c0c0c"/><rect x="6165.7" width="151.5" height="151.4" fill="#1e2d86"/>
</g>
<g transform="translate(0 3918.1)">
<rect x="192" width="151.5" height="151.4" fill="#fcfed2"/><rect x="353.5" width="151.5" height="151.4" fill="#ebfaa9"/><rect x="514.9" width="151.5" height="151.4" fill="#f3fbbe"/><rect x="676.4" width="151.5" height="151.4" fill="#fcf8d6"/><rect x="837.8" width="151.5" height="151.4" fill="#f3fbbe"/><rect x="999.3" width="151.5" height="151.4" fill="#efefee"/><rect x="1160.7" width="151.5" height="151.4" fill="#f0f1ec"/><rect x="1322.2" width="151.5" height="151.4" fill="#fbfed6"/><rect x="1483.6" width="151.5" height="151.4" fill="#fafed6"/><rect x="1645.1" width="151.5" height="151.4" fill="#f7f9de"/><rect x="1806.5" width="151.5" height="151.4" fill="#f0f1ec"/><rect x="1968" width="151.5" height="151.4" fill="#fbfed0"/><rect x="2129.4" width="151.5" height="151.4" fill="#d6f1a3"/><rect x="2290.9" width="151.5" height="151.4" fill="#efefee"/><rect x="2452.3" width="151.5" height="151.4" fill="#efefee"/><rect x="2613.8" width="151.5" height="151.4" fill="#efefee"/><rect x="2775.2" width="151.5" height="151.4" fill="#f0f1ec"/><rect x="2936.7" width="151.5" height="151.4" fill="#efefee"/><rect x="3098.1" width="151.5" height="151.4" fill="#f4fbc2"/><rect x="3259.6" width="151.5" height="151.4" fill="#f5fcc5"/><rect x="3421" width="151.5" height="151.4" fill="#eaf8a7"/><rect x="3582.5" width="151.5" height="151.4" fill="#1e368e"/><rect x="3743.9" width="151.5" height="151.4" fill="#2064a8"/><rect x="3905.4" width="151.5" height="151.4" fill="#1e3a8e"/><rect x="4066.8" width="151.5" height="151.4" fill="#171c71"/><rect x="4228.3" width="151.5" height="151.4" fill="#141a6b"/><rect x="4389.7" width="151.5" height="151.4" fill="#70c3b0"/><rect x="4551.2" width="151.5" height="151.4" fill="#d3efa3"/><rect x="4712.6" width="151.5" height="151.4" fill="#fcfed7"/><rect x="4874.1" width="151.5" height="151.4" fill="#f9fed2"/><rect x="5035.5" width="151.5" height="151.4" fill="#f1f2ea"/><rect x="5197" width="151.5" height="151.4" fill="#f4fcc2"/><rect x="5358.4" width="151.5" height="151.4" fill="#dff4a6"/><rect x="5519.9" width="151.5" height="151.4" fill="#aadea8"/><rect x="5681.3" width="151.5" height="151.4" fill="#fcfed6"/><rect x="5842.8" width="151.5" height="151.4" fill="#eaf8ab"/><rect x="6004.2" width="151.5" height="151.4" fill="#c3e8a5"/><rect x="6165.7" width="151.5" height="151.4" fill="#8fd3aa"/>
</g>
<g transform="translate(0 4079.5)">
<rect x="192" width="151.5" height="151.4" fill="#2c93b8"/><rect x="353.5" width="151.5" height="151.4" fill="#2166a8"/><rect x="514.9" width="151.5" height="151.4" fill="#f7f9e0"/><rect x="676.4" width="151.5" height="151.4" fill="#f5f6e6"/><rect x="837.8" width="151.5" height="151.4" fill="#f9fdcc"/><rect x="999.3" width="151.5" height="151.4" fill="#efefee"/><rect x="1160.7" width="151.5" height="151.4" fill="#f0f1ec"/><rect x="1322.2" width="151.5" height="151.4" fill="#f3f3e9"/><rect x="1483.6" width="151.5" height="151.4" fill="#efefee"/><rect x="1645.1" width="151.5" height="151.4" fill="#efefee"/><rect x="1806.5" width="151.5" height="151.4" fill="#f0f1ec"/><rect x="1968" width="151.5" height="151.4" fill="#f3f4e7"/><rect x="2129.4" width="151.5" height="151.4" fill="#f0f1ec"/><rect x="2290.9" width="151.5" height="151.4" fill="#efefee"/><rect x="2452.3" width="151.5" height="151.4" fill="#efefee"/><rect x="2613.8" width="151.5" height="151.4" fill="#efefee"/><rect x="2775.2" width="151.5" height="151.4" fill="#f0f1ec"/><rect x="2936.7" width="151.5" height="151.4" fill="#efefee"/><rect x="3098.1" width="151.5" height="151.4" fill="#fbfdd4"/><rect x="3259.6" width="151.5" height="151.4" fill="#f5f6e3"/><rect x="3421" width="151.5" height="151.4" fill="#f0f1ec"/><rect x="3582.5" width="151.5" height="151.4" fill="#0c0c0c"/><rect x="3743.9" width="151.5" height="151.4" fill="#191c70"/><rect x="3905.4" width="151.5" height="151.4" fill="#10132a"/><rect x="4066.8" width="151.5" height="151.4" fill="#100d19"/><rect x="4228.3" width="151.5" height="151.4" fill="#0c0c0c"/><rect x="4389.7" width="151.5" height="151.4" fill="#1e4292"/><rect x="4551.2" width="151.5" height="151.4" fill="#35a4b9"/><rect x="4712.6" width="151.5" height="151.4" fill="#f2f5e4"/><rect x="4874.1" width="151.5" height="151.4" fill="#e3f7a2"/><rect x="5035.5" width="151.5" height="151.4" fill="#efefee"/><rect x="5197" width="151.5" height="151.4" fill="#fcfed7"/><rect x="5358.4" width="151.5" height="151.4" fill="#f7f9df"/><rect x="5519.9" width="151.5" height="151.4" fill="#f2fbbe"/><rect x="5681.3" width="151.5" height="151.4" fill="#fbfed8"/><rect x="5842.8" width="151.5" height="151.4" fill="#f1f2ea"/><rect x="6004.2" width="151.5" height="151.4" fill="#d0eda6"/><rect x="6165.7" width="151.5" height="151.4" fill="#46afb8"/>
</g>
<g transform="translate(0 4240.8)">
<rect x="192" width="151.5" height="151.4" fill="#efefee"/><rect x="353.5" width="151.5" height="151.4" fill="#f5f6e3"/><rect x="514.9" width="151.5" height="151.4" fill="#ebf8aa"/><rect x="676.4" width="151.5" height="151.4" fill="#1f80b4"/><rect x="837.8" width="151.5" height="151.4" fill="#1e6faa"/><rect x="999.3" width="151.5" height="151.4" fill="#f0f1ec"/><rect x="1160.7" width="151.5" height="151.4" fill="#f0f1ec"/><rect x="1322.2" width="151.5" height="151.4" fill="#efefee"/><rect x="1483.6" width="151.5" height="151.4" fill="#efefef"/><rect x="1645.1" width="151.5" height="151.4" fill="#efefef"/><rect x="1806.5" width="151.5" height="151.4" fill="#efefee"/><rect x="1968" width="151.5" height="151.4" fill="#f1f2ea"/><rect x="2129.4" width="151.5" height="151.4" fill="#f0f1ec"/><rect x="2290.9" width="151.5" height="151.4" fill="#efefee"/><rect x="2452.3" width="151.5" height="151.4" fill="#efefee"/><rect x="2613.8" width="151.5" height="151.4" fill="#efefee"/><rect x="2775.2" width="151.5" height="151.4" fill="#f0f1ec"/><rect x="2936.7" width="151.5" height="151.4" fill="#efefee"/><rect x="3098.1" width="151.5" height="151.4" fill="#f8fdd4"/><rect x="3259.6" width="151.5" height="151.4" fill="#f9fdd5"/><rect x="3421" width="151.5" height="151.4" fill="#efefee"/><rect x="3582.5" width="151.5" height="151.4" fill="#0c0c0c"/><rect x="3743.9" width="151.5" height="151.4" fill="#0c0c0c"/><rect x="3905.4" width="151.5" height="151.4" fill="#191c70"/><rect x="4066.8" width="151.5" height="151.4" fill="#0c0c0c"/><rect x="4228.3" width="151.5" height="151.4" fill="#12101f"/><rect x="4389.7" width="151.5" height="151.4" fill="#fafcdc"/><rect x="4551.2" width="151.5" height="151.4" fill="#f3f1e8"/><rect x="4712.6" width="151.5" height="151.4" fill="#efefee"/><rect x="4874.1" width="151.5" height="151.4" fill="#efefee"/><rect x="5035.5" width="151.5" height="151.4" fill="#efefee"/><rect x="5197" width="151.5" height="151.4" fill="#efefee"/><rect x="5358.4" width="151.5" height="151.4" fill="#efefee"/><rect x="5519.9" width="151.5" height="151.4" fill="#f2fbbe"/><rect x="5681.3" width="151.5" height="151.4" fill="#efefee"/><rect x="5842.8" width="151.5" height="151.4" fill="#efefee"/><rect x="6004.2" width="151.5" height="151.4" fill="#f3f2e6"/><rect x="6165.7" width="151.5" height="151.4" fill="#f1f9b6"/>
</g>
<g transform="translate(0 4402.2)">
<rect x="192" width="151.5" height="151.4" fill="#f1f2ea"/><rect x="353.5" width="151.5" height="151.4" fill="#f8fadc"/><rect x="514.9" width="151.5" height="151.4" fill="#cdeba7"/><rect x="676.4" width="151.5" height="151.4" fill="#cdeba7"/><rect x="837.8" width="151.5" height="151.4" fill="#edf8ab"/><rect x="999.3" width="151.5" height="151.4" fill="#d2eda4"/><rect x="1160.7" width="151.5" height="151.4" fill="#d1eda6"/><rect x="1322.2" width="151.5" height="151.4" fill="#f6f7e1"/><rect x="1483.6" width="151.5" height="151.4" fill="#efefef"/><rect x="1645.1" width="151.5" height="151.4" fill="#efefef"/><rect x="1806.5" width="151.5" height="151.4" fill="#efefee"/><rect x="1968" width="151.5" height="151.4" fill="#f0f1ec"/><rect x="2129.4" width="151.5" height="151.4" fill="#efefef"/><rect x="2290.9" width="151.5" height="151.4" fill="#f0f1ec"/><rect x="2452.3" width="151.5" height="151.4" fill="#f0f2e8"/><rect x="2613.8" width="151.5" height="151.4" fill="#efefee"/><rect x="2775.2" width="151.5" height="151.4" fill="#f4f6e1"/><rect x="2936.7" width="151.5" height="151.4" fill="#efefef"/><rect x="3098.1" width="151.5" height="151.4" fill="#f3f5e6"/><rect x="3259.6" width="151.5" height="151.4" fill="#eef9b0"/><rect x="3421" width="151.5" height="151.4" fill="#f0f1ec"/><rect x="3582.5" width="151.5" height="151.4" fill="#e9f8a6"/><rect x="3743.9" width="151.5" height="151.4" fill="#fdfed2"/><rect x="3905.4" width="151.5" height="151.4" fill="#f2fbbe"/><rect x="4066.8" width="151.5" height="151.4" fill="#f1fab9"/><rect x="4228.3" width="151.5" height="151.4" fill="#d8f1a2"/><rect x="4389.7" width="151.5" height="151.4" fill="#0c0c0c"/><rect x="4551.2" width="151.5" height="151.4" fill="#0c0c0c"/><rect x="4712.6" width="151.5" height="151.4" fill="#0c0c0c"/><rect x="4874.1" width="151.5" height="151.4" fill="#0c0c0c"/><rect x="5035.5" width="151.5" height="151.4" fill="#0f1233"/><rect x="5197" width="151.5" height="151.4" fill="#0c0c0c"/><rect x="5358.4" width="151.5" height="151.4" fill="#f0f1ec"/><rect x="5519.9" width="151.5" height="151.4" fill="#f2f3ea"/><rect x="5681.3" width="151.5" height="151.4" fill="#f5f6e3"/><rect x="5842.8" width="151.5" height="151.4" fill="#1e59a0"/><rect x="6004.2" width="151.5" height="151.4" fill="#0c0c0c"/><rect x="6165.7" width="151.5" height="151.4" fill="#131a62"/>
</g>
<g transform="translate(0 4563.6)">
<rect x="192" width="151.5" height="151.4" fill="#f0f1ec"/><rect x="353.5" width="151.5" height="151.4" fill="#fafecd"/><rect x="514.9" width="151.5" height="151.4" fill="#cceba6"/><rect x="676.4" width="151.5" height="151.4" fill="#cbeba2"/><rect x="837.8" width="151.5" height="151.4" fill="#ebf8aa"/><rect x="999.3" width="151.5" height="151.4" fill="#f5f6e2"/><rect x="1160.7" width="151.5" height="151.4" fill="#f2f6e2"/><rect x="1322.2" width="151.5" height="151.4" fill="#fcfed2"/><rect x="1483.6" width="151.5" height="151.4" fill="#f0f1ec"/><rect x="1645.1" width="151.5" height="151.4" fill="#f0f1ec"/><rect x="1806.5" width="151.5" height="151.4" fill="#f0f1ea"/><rect x="1968" width="151.5" height="151.4" fill="#f0f1ec"/><rect x="2129.4" width="151.5" height="151.4" fill="#efefef"/><rect x="2290.9" width="151.5" height="151.4" fill="#f0f1ec"/><rect x="2452.3" width="151.5" height="151.4" fill="#f0f1ec"/><rect x="2613.8" width="151.5" height="151.4" fill="#f0f1ec"/><rect x="2775.2" width="151.5" height="151.4" fill="#f3f6e2"/><rect x="2936.7" width="151.5" height="151.4" fill="#efefee"/><rect x="3098.1" width="151.5" height="151.4" fill="#fbfdd6"/><rect x="3259.6" width="151.5" height="151.4" fill="#e9f8a6"/><rect x="3421" width="151.5" height="151.4" fill="#f8f9e0"/><rect x="3582.5" width="151.5" height="151.4" fill="#e9f8a6"/><rect x="3743.9" width="151.5" height="151.4" fill="#f1fab8"/><rect x="3905.4" width="151.5" height="151.4" fill="#effab1"/><rect x="4066.8" width="151.5" height="151.4" fill="#effab3"/><rect x="4228.3" width="151.5" height="151.4" fill="#d0eda3"/><rect x="4389.7" width="151.5" height="151.4" fill="#0c0c0c"/><rect x="4551.2" width="151.5" height="151.4" fill="#0c0c0c"/><rect x="4712.6" width="151.5" height="151.4" fill="#0c0c0c"/><rect x="4874.1" width="151.5" height="151.4" fill="#0c0c0c"/><rect x="5035.5" width="151.5" height="151.4" fill="#181a6e"/><rect x="5197" width="151.5" height="151.4" fill="#0e1640"/><rect x="5358.4" width="151.5" height="151.4" fill="#f0f1ec"/><rect x="5519.9" width="151.5" height="151.4" fill="#f5f5e6"/><rect x="5681.3" width="151.5" height="151.4" fill="#fcfed6"/><rect x="5842.8" width="151.5" height="151.4" fill="#2289b5"/><rect x="6004.2" width="151.5" height="151.4" fill="#0e0e15"/><rect x="6165.7" width="151.5" height="151.4" fill="#1c1f7c"/>
</g>
<!-- frames -->
<rect x="187" y="1331" width="6135" height="1611" fill="none" stroke="#000" stroke-width="7"/>
<rect x="187" y="2948" width="6135" height="1772" fill="none" stroke="#000" stroke-width="7"/>
<!-- bottom ticks -->
<g stroke="#000" stroke-width="10">
<line x1="267.7" y1="4720" x2="267.7" y2="4753"/><line x1="429.2" y1="4720" x2="429.2" y2="4753"/><line x1="590.6" y1="4720" x2="590.6" y2="4753"/><line x1="752.1" y1="4720" x2="752.1" y2="4753"/><line x1="913.5" y1="4720" x2="913.5" y2="4753"/><line x1="1075" y1="4720" x2="1075" y2="4753"/><line x1="1236.4" y1="4720" x2="1236.4" y2="4753"/><line x1="1397.9" y1="4720" x2="1397.9" y2="4753"/><line x1="1559.3" y1="4720" x2="1559.3" y2="4753"/><line x1="1720.8" y1="4720" x2="1720.8" y2="4753"/><line x1="1882.2" y1="4720" x2="1882.2" y2="4753"/><line x1="2043.7" y1="4720" x2="2043.7" y2="4753"/><line x1="2205.1" y1="4720" x2="2205.1" y2="4753"/><line x1="2366.6" y1="4720" x2="2366.6" y2="4753"/><line x1="2528" y1="4720" x2="2528" y2="4753"/><line x1="2689.5" y1="4720" x2="2689.5" y2="4753"/><line x1="2850.9" y1="4720" x2="2850.9" y2="4753"/><line x1="3012.4" y1="4720" x2="3012.4" y2="4753"/><line x1="3173.8" y1="4720" x2="3173.8" y2="4753"/><line x1="3335.3" y1="4720" x2="3335.3" y2="4753"/><line x1="3496.7" y1="4720" x2="3496.7" y2="4753"/><line x1="3658.2" y1="4720" x2="3658.2" y2="4753"/><line x1="3819.6" y1="4720" x2="3819.6" y2="4753"/><line x1="3981.1" y1="4720" x2="3981.1" y2="4753"/><line x1="4142.5" y1="4720" x2="4142.5" y2="4753"/><line x1="4304" y1="4720" x2="4304" y2="4753"/><line x1="4465.4" y1="4720" x2="4465.4" y2="4753"/><line x1="4626.9" y1="4720" x2="4626.9" y2="4753"/><line x1="4788.3" y1="4720" x2="4788.3" y2="4753"/><line x1="4949.8" y1="4720" x2="4949.8" y2="4753"/><line x1="5111.2" y1="4720" x2="5111.2" y2="4753"/><line x1="5272.7" y1="4720" x2="5272.7" y2="4753"/><line x1="5434.1" y1="4720" x2="5434.1" y2="4753"/><line x1="5595.6" y1="4720" x2="5595.6" y2="4753"/><line x1="5757" y1="4720" x2="5757" y2="4753"/><line x1="5918.5" y1="4720" x2="5918.5" y2="4753"/><line x1="6079.9" y1="4720" x2="6079.9" y2="4753"/><line x1="6241.4" y1="4720" x2="6241.4" y2="4753"/>
</g>
<!-- right ticks -->
<g stroke="#000" stroke-width="10">
<line x1="6322" y1="1411.7" x2="6355" y2="1411.7"/><line x1="6322" y1="1573.1" x2="6355" y2="1573.1"/><line x1="6322" y1="1734.5" x2="6355" y2="1734.5"/><line x1="6322" y1="1895.9" x2="6355" y2="1895.9"/><line x1="6322" y1="2057.3" x2="6355" y2="2057.3"/><line x1="6322" y1="2218.7" x2="6355" y2="2218.7"/><line x1="6322" y1="2380.1" x2="6355" y2="2380.1"/><line x1="6322" y1="2541.5" x2="6355" y2="2541.5"/><line x1="6322" y1="2702.9" x2="6355" y2="2702.9"/><line x1="6322" y1="2864.3" x2="6355" y2="2864.3"/><line x1="6322" y1="3025.7" x2="6355" y2="3025.7"/><line x1="6322" y1="3187.1" x2="6355" y2="3187.1"/><line x1="6322" y1="3348.5" x2="6355" y2="3348.5"/><line x1="6322" y1="3509.9" x2="6355" y2="3509.9"/><line x1="6322" y1="3671.3" x2="6355" y2="3671.3"/><line x1="6322" y1="3832.7" x2="6355" y2="3832.7"/><line x1="6322" y1="3994.1" x2="6355" y2="3994.1"/><line x1="6322" y1="4155.5" x2="6355" y2="4155.5"/><line x1="6322" y1="4316.9" x2="6355" y2="4316.9"/><line x1="6322" y1="4478.3" x2="6355" y2="4478.3"/><line x1="6322" y1="4639.7" x2="6355" y2="4639.7"/>
</g>
<!-- row labels -->
<g font-size="92">
<text x="6412" y="1444.7">PC_8</text><text x="6412" y="1606.1">PC_5</text><text x="6412" y="1767.5">PC_4</text><text x="6412" y="1928.9">PC_1</text><text x="6412" y="2090.3">PC_10</text><text x="6412" y="2251.7">PC_3</text><text x="6412" y="2413.1">PC_6</text><text x="6412" y="2574.5">PC_7</text><text x="6412" y="2735.9">PC_2</text><text x="6412" y="2897.3">PC_9</text>
<text x="6412" y="3058.7">NPC-like</text><text x="6412" y="3220.1">RG-like</text><text x="6412" y="3381.5">TME</text><text x="6412" y="3542.9">IPC-like</text><text x="6412" y="3704.3">Cilia-like</text><text x="6412" y="3865.7">CP-like</text><text x="6412" y="4027.1">Unannotated</text><text x="6412" y="4188.5">Hypoxic</text><text x="6412" y="4349.9">Mesenchymal-like</text><text x="6412" y="4511.3">Immune-like</text><text x="6412" y="4672.7">OPC-like</text>
</g>
<!-- x labels -->
<g font-size="92" text-anchor="end" transform="translate(-25 -5)">
<text transform="translate(337.7 4857) rotate(-45)">COL14A1</text>
<text transform="translate(499.2 4857) rotate(-45)">FBN2</text>
<text transform="translate(660.6 4857) rotate(-45)">AC011287.1</text>
<text transform="translate(822.1 4857) rotate(-45)">PLS3</text>
<text transform="translate(983.5 4857) rotate(-45)">SPARC</text>
<text transform="translate(1145 4857) rotate(-45)">FYB1</text>
<text transform="translate(1306.4 4857) rotate(-45)">TBXAS1</text>
<text transform="translate(1467.9 4857) rotate(-45)">AP001924.1</text>
<text transform="translate(1629.3 4857) rotate(-45)">AC117461.1</text>
<text transform="translate(1790.8 4857) rotate(-45)">PAX3</text>
<text transform="translate(1952.2 4857) rotate(-45)">CACNA1B</text>
<text transform="translate(2113.7 4857) rotate(-45)">CNTN4</text>
<text transform="translate(2275.1 4857) rotate(-45)">TTR</text>
<text transform="translate(2436.6 4857) rotate(-45)">C10orf90</text>
<text transform="translate(2598 4857) rotate(-45)">TF</text>
<text transform="translate(2759.5 4857) rotate(-45)">AP003464.1</text>
<text transform="translate(2920.9 4857) rotate(-45)">CHSY3</text>
<text transform="translate(3082.4 4857) rotate(-45)">MYT1L</text>
<text transform="translate(3243.8 4857) rotate(-45)">MEG3</text>
<text transform="translate(3405.3 4857) rotate(-45)">KCNT2</text>
<text transform="translate(3566.7 4857) rotate(-45)">SLC35F1</text>
<text transform="translate(3728.2 4857) rotate(-45)">RPS18</text>
<text transform="translate(3889.6 4857) rotate(-45)">RPL30</text>
<text transform="translate(4051.1 4857) rotate(-45)">MT-CYB</text>
<text transform="translate(4212.5 4857) rotate(-45)">MT-ATP6</text>
<text transform="translate(4374 4857) rotate(-45)">MT-CO2</text>
<text transform="translate(4535.4 4857) rotate(-45)">PCDH9</text>
<text transform="translate(4696.9 4857) rotate(-45)">NRG1</text>
<text transform="translate(4858.3 4857) rotate(-45)">NRXN1</text>
<text transform="translate(5019.8 4857) rotate(-45)">DGKB</text>
<text transform="translate(5181.2 4857) rotate(-45)">KCNQ5</text>
<text transform="translate(5342.7 4857) rotate(-45)">DTNA</text>
<text transform="translate(5504.1 4857) rotate(-45)">HTR2C</text>
<text transform="translate(5665.6 4857) rotate(-45)">TRPM3</text>
<text transform="translate(5827 4857) rotate(-45)">AC092691.1</text>
<text transform="translate(5988.5 4857) rotate(-45)">SGCZ</text>
<text transform="translate(6149.9 4857) rotate(-45)">LSAMP</text>
<text transform="translate(6311.4 4857) rotate(-45)">NEAT1</text>
</g>
<!-- axis titles -->
<g font-size="116" font-weight="bold" text-anchor="middle">
<text transform="translate(143 2138) rotate(-90)">PC</text>
<text transform="translate(143 3833) rotate(-90)">Groups</text>
</g>
<!-- legend 1 -->
<text x="1951" y="5478" font-size="116" font-weight="bold" text-anchor="middle">Avg. Loading score</text>
<rect x="748" y="5544" width="2404" height="129" fill="#6e6e6e"/>
<rect x="764" y="5553" width="2373" height="111" fill="url(#g1)"/>
<g stroke="#fff" stroke-width="6">
<line x1="765" y1="5553" x2="765" y2="5579"/><line x1="765" y1="5639" x2="765" y2="5664"/>
<line x1="1358" y1="5553" x2="1358" y2="5579"/><line x1="1358" y1="5639" x2="1358" y2="5664"/>
<line x1="1950" y1="5553" x2="1950" y2="5579"/><line x1="1950" y1="5639" x2="1950" y2="5664"/>
<line x1="2543" y1="5553" x2="2543" y2="5579"/><line x1="2543" y1="5639" x2="2543" y2="5664"/>
<line x1="3135" y1="5553" x2="3135" y2="5579"/><line x1="3135" y1="5639" x2="3135" y2="5664"/>
</g>
<g font-size="92" text-anchor="middle">
<text x="765" y="5796">-0.08</text><text x="1358" y="5796">-0.04</text><text x="1950" y="5796">0</text><text x="2543" y="5796">0.04</text><text x="3135" y="5796">0.08</text>
</g>
<!-- legend 2 -->
<text x="4560" y="5478" font-size="116" font-weight="bold" text-anchor="middle">Avg. Expression</text>
<rect x="3357" y="5544" width="2406" height="129" fill="#6e6e6e"/>
<rect x="3364" y="5553" width="2386" height="111" fill="url(#g2)"/>
<g stroke="#fff" stroke-width="6">
<line x1="3366" y1="5553" x2="3366" y2="5579"/><line x1="3366" y1="5639" x2="3366" y2="5664"/>
<line x1="4163" y1="5553" x2="4163" y2="5579"/><line x1="4163" y1="5639" x2="4163" y2="5664"/>
<line x1="4965" y1="5553" x2="4965" y2="5579"/><line x1="4965" y1="5639" x2="4965" y2="5664"/>
</g>
<g font-size="92" text-anchor="middle">
<text x="3364" y="5796">0</text><text x="4163" y="5796">1</text><text x="4965" y="5796">2</text>
</g>
</svg>
</body></html>
